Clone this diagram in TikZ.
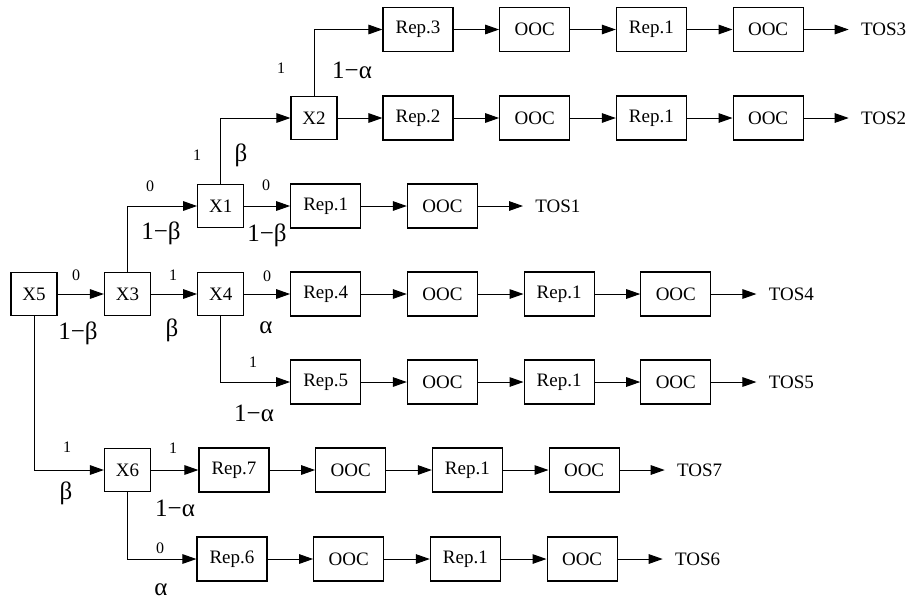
\documentclass[tikz,border=0pt]{standalone}
\usepackage{fontspec}
\setmainfont{Liberation Serif}
\usepackage{tikz}
\usetikzlibrary{arrows.meta, positioning}
\tikzset{
  box/.style={draw=black, line width=0.6pt, fill=white, minimum width=35pt, minimum height=22pt,
              inner sep=1pt, font=\fontsize{9.5}{11}\selectfont},
  xbox/.style={box, minimum width=23pt, minimum height=21.5pt},
  flow/.style={-{Triangle[length=7pt,width=4.8pt]}, line width=0.5pt},
  tos/.style={font=\fontsize{9.5}{11}\selectfont, inner xsep=6pt, inner ysep=1pt},
}
\begin{document}
\begin{tikzpicture}[x=0.5pt, y=-0.5pt,
        dig/.style={font=\fontsize{8}{9}\selectfont, inner sep=0pt},
        grk/.style={font=\fontsize{12.5}{14}\selectfont, inner sep=0pt}]
  \useasboundingbox (0,0) rectangle (909,602);
  \node[xbox] (x5) at (34,294) {X5};
  \node[xbox] (x3) at (127.5,294) {X3};
  \node[xbox] (x4) at (220.7,294) {X4};
  \node[xbox] (x1) at (220.7,206) {X1};
  \node[xbox] (x2) at (314,118) {X2};
  \node[xbox] (x6) at (127.5,470) {X6};
  \node[box] (a1) at (325.7,206) {Rep.1};
  \node[box] (b1) at (442.4,206) {OOC};
  \node[tos, right=22.5pt of b1] (t1) {TOS1};
  \draw[flow] (a1) -- (b1);
  \draw[flow] (b1) -- (t1);
  \foreach \r/\y/\xa in {3/29.5/418, 2/118/418, 4/294/325.7, 5/382/325.7, 7/470/234, 6/559/232} {
    \node[box] (a\r) at (\xa,\y) {Rep.\r};
    \node[box] (b\r) at (\xa+116.7,\y) {OOC};
    \node[box] (c\r) at (\xa+233.4,\y) {Rep.1};
    \node[box] (d\r) at (\xa+350.1,\y) {OOC};
    \node[tos, right=22.5pt of d\r] (t\r) {TOS\r};
    \draw[flow] (a\r) -- (b\r);
    \draw[flow] (b\r) -- (c\r);
    \draw[flow] (c\r) -- (d\r);
    \draw[flow] (d\r) -- (t\r);
  }
  \draw[flow] (x5) -- (x3);
  \draw[flow] (x3) -- (x4);
  \draw[flow] (x5.south) |- (x6.west);
  \draw[flow] (x3.north) |- (x1.west);
  \draw[flow] (x1) -- (a1);
  \draw[flow] (x1.north) |- (x2.west);
  \draw[flow] (x2) -- (a2);
  \draw[flow] (x2.north) |- (a3.west);
  \draw[flow] (x4) -- (a4);
  \draw[flow] (x4.south) |- (a5.west);
  \draw[flow] (x6) -- (a7);
  \draw[flow] (x6.south) |- (a6.west);
  \foreach \n/\x/\y/\t in {a/76/275/0, b/67/447/1, c/173/275/1, d/150/186/0, e/266/185/0, f/197/155/1,
                           g/281/68/1, h/267/276/0, i/253/362/1, j/173/448/1, k/160/548/0}
    \node[dig] (d\n) at (\x,\y) {\t};
  \foreach \n/\x/\y/\t in {a/78/333/1−β, b/66/493/β, c/172/330/β, d/161/233/1−β, e/267/235/1−β, f/241/155/β,
                           g/352/70/1−α, h/266/328/α, i/254/413/1−α, j/175/508/1−α, k/161/590/α}
    \node[grk] (g\n) at (\x,\y) {\t};
\end{tikzpicture}
\end{document}
